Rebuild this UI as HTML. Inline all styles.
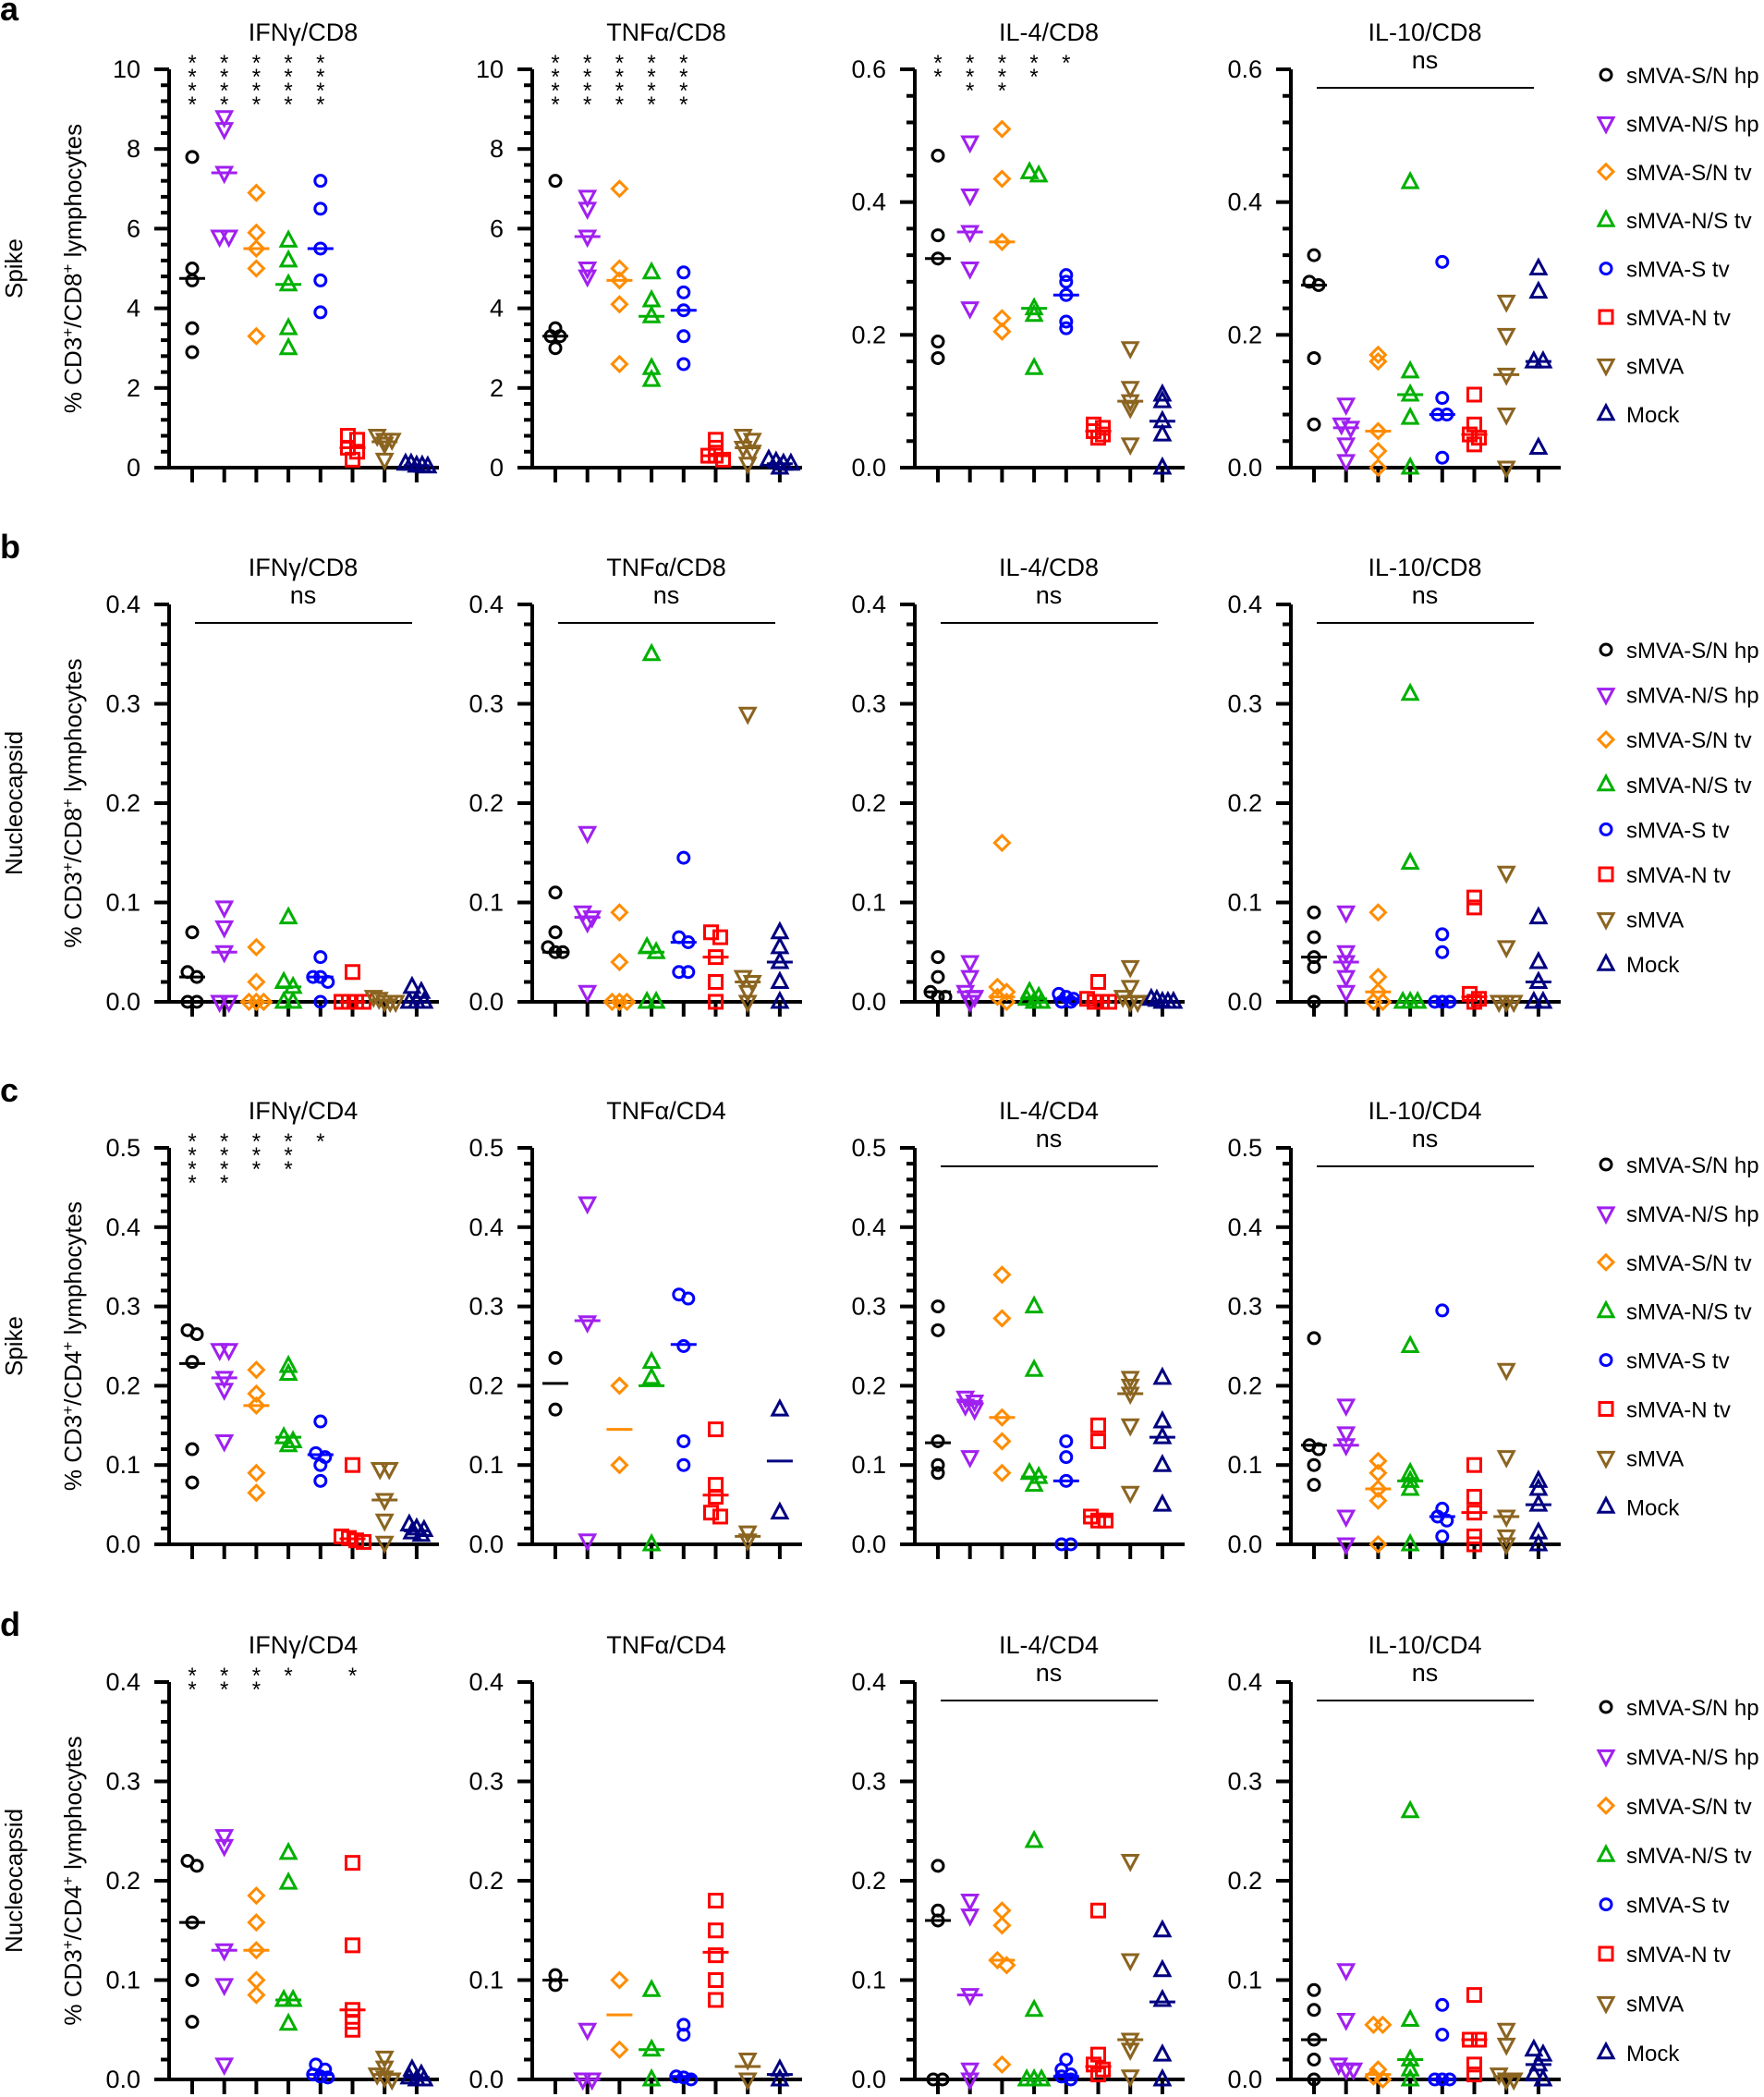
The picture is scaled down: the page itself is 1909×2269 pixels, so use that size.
<!DOCTYPE html>
<html><head><meta charset="utf-8"><style>
html,body{margin:0;padding:0;background:#fff;}
svg{display:block;font-family:"Liberation Sans",Arial,sans-serif;}
</style></head><body>
<svg id="s" width="1909" height="2269" viewBox="0 0 1909 2269" xmlns="http://www.w3.org/2000/svg"></svg>
<script>
const S=document.getElementById('s');
let out='';
const COL=['#000000','#a020f0','#ff8c00','#00b000','#0000ff','#ff0000','#8b6420','#000080'];
const SHP=['c','v','d','t','c','s','v','t'];
const NAMES=['sMVA-S/N hp','sMVA-N/S hp','sMVA-S/N tv','sMVA-N/S tv','sMVA-S tv','sMVA-N tv','sMVA','Mock'];
function mk(sh,x,y,c){
  const st=`fill="none" stroke="${c}" stroke-width="3"`;
  if(sh==='c')return `<circle cx="${x}" cy="${y}" r="6" ${st}/>`;
  if(sh==='s')return `<rect x="${x-7}" y="${y-7}" width="14" height="14" ${st}/>`;
  if(sh==='d')return `<path d="M${x} ${y-8}L${x+8} ${y}L${x} ${y+8}L${x-8} ${y}Z" ${st}/>`;
  if(sh==='t')return `<path d="M${x} ${y-9}L${x+8} ${y+6}L${x-8} ${y+6}Z" ${st}/>`;
  if(sh==='v')return `<path d="M${x} ${y+9}L${x+8} ${y-6}L${x-8} ${y-6}Z" ${st}/>`;
}
const AX=[183,576,990,1397];
const ROWS=[
 {top:75,bot:506,letter:'a',lab:'Spike',cd:'8',leg0:81,legs:52.4},
 {top:654,bot:1084,letter:'b',lab:'Nucleocapsid',cd:'8',leg0:703,legs:48.6},
 {top:1242,bot:1671,letter:'c',lab:'Spike',cd:'4',leg0:1260,legs:52.9},
 {top:1820,bot:2250,letter:'d',lab:'Nucleocapsid',cd:'4',leg0:1847,legs:53.4}
];
const C=[
[
['IFNγ/CD8',10,2,0,[4,4,4,4,4],[[7.8,5.0,4.7,3.5,2.9,4.75],[8.8,8.5,7.4,5.8,5.8,7.4],[6.9,5.9,5.5,5.0,3.3,5.5],[5.7,5.2,4.6,3.5,3.0,4.6],[7.2,6.5,5.5,4.7,3.9,5.5],[0.8,0.7,0.5,0.4,0.2,0.5],[0.8,0.7,0.7,0.6,0.2,0.65],[0.1,0.1,0.05,0.05,0.03,0.05]]],
['TNFα/CD8',10,2,0,[4,4,4,4,4],[[7.2,3.5,3.3,3.3,3.0,3.3],[6.8,6.5,5.8,5.0,4.8,5.8],[7.0,5.0,4.7,4.1,2.6,4.7],[4.9,4.2,3.8,2.5,2.2,3.8],[4.9,4.4,3.95,3.3,2.6,3.95],[0.7,0.5,0.3,0.3,0.2,0.3],[0.8,0.7,0.5,0.4,0.1,0.5],[0.2,0.15,0.1,0.1,0.0,0.1]]],
['IL-4/CD8',0.6,0.2,1,[2,3,3,2,1],[[0.47,0.35,0.315,0.19,0.165,0.315],[0.49,0.41,0.355,0.30,0.24,0.355],[0.51,0.435,0.34,0.225,0.205,0.34],[0.44,0.445,0.24,0.23,0.15,0.24],[0.29,0.28,0.26,0.22,0.21,0.26],[0.065,0.06,0.055,0.05,0.045,0.055],[0.18,0.12,0.1,0.09,0.035,0.1],[0.11,0.10,0.07,0.05,0.0,0.07]]],
['IL-10/CD8',0.6,0.2,1,'ns',[[0.32,0.28,0.275,0.165,0.065,0.275],[0.095,0.065,0.06,0.035,0.01,0.06],[0.17,0.16,0.055,0.025,0.0,0.055],[0.43,0.145,0.11,0.075,0.0,0.11],[0.31,0.105,0.08,0.08,0.015,0.08],[0.11,0.065,0.05,0.045,0.035,0.05],[0.25,0.2,0.14,0.08,0.0,0.14],[0.3,0.265,0.16,0.16,0.03,0.16]]]
],[
['IFNγ/CD8',0.4,0.1,1,'ns',[[0.07,0.03,0.025,0,0,0.025],[0.095,0.075,0.05,0,0,0.05],[0.055,0.02,0,0,0,0],[0.085,0.02,0.015,0,0,0.015],[0.045,0.025,0.025,0.02,0,0.025],[0.03,0,0,0,0,0],[0.005,0.003,0,0,0,0.002],[0.015,0.01,0,0,0,0]]],
['TNFα/CD8',0.4,0.1,1,'ns',[[0.11,0.07,0.055,0.05,0.05,0.05],[0.17,0.09,0.085,0.08,0.01,0.085],[0.09,0.04,0,0,0,0],[0.35,0.055,0.05,0,0,0.05],[0.145,0.065,0.06,0.03,0.03,0.06],[0.07,0.065,0.045,0.02,0,0.045],[0.29,0.025,0.02,0.01,0,0.02],[0.07,0.055,0.04,0.02,0,0.04]]],
['IL-4/CD8',0.4,0.1,1,'ns',[[0.045,0.025,0.01,0.005,0.005,0.01],[0.04,0.025,0.01,0.005,0,0.01],[0.16,0.015,0.01,0.005,0,0.005],[0.01,0.005,0.003,0,0,0.003],[0.008,0.005,0.003,0,0,0.003],[0.02,0.003,0,0,0,0],[0.035,0.015,0.005,0,0,0.005],[0.003,0.002,0,0,0,0]]],
['IL-10/CD8',0.4,0.1,1,'ns',[[0.09,0.065,0.045,0.035,0,0.045],[0.09,0.05,0.04,0.025,0.01,0.04],[0.09,0.025,0.01,0,0,0.01],[0.31,0.14,0,0,0,0],[0.068,0.05,0,0,0,0],[0.105,0.095,0.008,0.003,0,0.005],[0.13,0.055,0,0,0,0],[0.085,0.04,0.02,0,0,0.02]]]
],[
['IFNγ/CD4',0.5,0.1,1,[4,4,3,3,1],[[0.27,0.265,0.23,0.12,0.078,0.228],[0.245,0.245,0.21,0.195,0.13,0.21],[0.22,0.19,0.175,0.09,0.065,0.175],[0.225,0.215,0.135,0.13,0.125,0.135],[0.155,0.115,0.11,0.1,0.08,0.113],[0.1,0.01,0.008,0.005,0.003,0.007],[0.095,0.095,0.056,0.03,0.002,0.056],[0.025,0.02,0.018,0.015,0.012,0.017]]],
['TNFα/CD4',0.5,0.1,1,null,[[0.235,0.17,0.203],[0.43,0.28,0.005,0.282],[0.2,0.1,0.145],[0.23,0.21,0.0,0.2],[0.315,0.31,0.25,0.13,0.1,0.252],[0.145,0.075,0.06,0.04,0.035,0.062],[0.015,0.005,0.01],[0.17,0.04,0.105]]],
['IL-4/CD4',0.5,0.1,1,'ns',[[0.3,0.27,0.13,0.1,0.09,0.128],[0.185,0.18,0.175,0.17,0.11,0.18],[0.34,0.285,0.16,0.13,0.09,0.16],[0.3,0.22,0.09,0.085,0.075,0.085],[0.13,0.11,0.08,0.0,0.0,0.08],[0.15,0.13,0.035,0.03,0.03,0.035],[0.21,0.2,0.19,0.15,0.065,0.19],[0.21,0.155,0.135,0.1,0.05,0.135]]],
['IL-10/CD4',0.5,0.1,1,'ns',[[0.26,0.125,0.12,0.1,0.075,0.125],[0.175,0.14,0.125,0.035,0.0,0.125],[0.105,0.09,0.07,0.055,0.0,0.07],[0.25,0.09,0.08,0.07,0.0,0.08],[0.295,0.045,0.035,0.03,0.01,0.035],[0.1,0.06,0.04,0.01,0.0,0.04],[0.22,0.11,0.035,0.01,0.0,0.035],[0.08,0.07,0.05,0.015,0.0,0.05]]]
],[
['IFNγ/CD4',0.4,0.1,1,[2,2,2,1,0,1],[[0.22,0.215,0.158,0.1,0.058,0.158],[0.245,0.235,0.13,0.095,0.015,0.13],[0.185,0.158,0.13,0.1,0.085,0.13],[0.228,0.198,0.08,0.08,0.056,0.08],[0.015,0.01,0.005,0.003,0.002,0.005],[0.218,0.135,0.07,0.058,0.05,0.07],[0.022,0.012,0.005,0.002,0.0,0.005],[0.01,0.005,0.002,0,0,0.002]]],
['TNFα/CD4',0.4,0.1,1,null,[[0.105,0.095,0.1],[0.05,0.0,0.0,0.0],[0.1,0.03,0.065],[0.09,0.03,0.0,0.03],[0.055,0.045,0.003,0.002,0,0.003],[0.18,0.15,0.125,0.1,0.08,0.128],[0.02,0.0,0.013],[0.01,0.0,0.005]]],
['IL-4/CD4',0.4,0.1,1,'ns',[[0.215,0.17,0.16,0.0,0.0,0.16],[0.18,0.165,0.085,0.01,0.0,0.085],[0.17,0.155,0.12,0.115,0.015,0.12],[0.24,0.07,0,0,0,0],[0.02,0.01,0.005,0.003,0,0.003],[0.17,0.025,0.015,0.01,0.005,0.013],[0.22,0.12,0.04,0.03,0.003,0.04],[0.15,0.11,0.08,0.025,0.0,0.078]]],
['IL-10/CD4',0.4,0.1,1,'ns',[[0.09,0.07,0.04,0.02,0.0,0.04],[0.11,0.06,0.015,0.01,0.01,0.015],[0.055,0.055,0.01,0.003,0,0.005],[0.27,0.06,0.02,0.01,0,0.02],[0.075,0.045,0,0,0,0],[0.085,0.04,0.04,0.015,0.005,0.04],[0.05,0.035,0.005,0,0,0.003],[0.03,0.025,0.015,0.005,0,0.015]]]
]];
function T(x,y,s,fs,anchor,extra){return `<text x="${x}" y="${y}" font-size="${fs}" text-anchor="${anchor||'start'}" ${extra||''}>${s}</text>`;}
ROWS.forEach((R,ri)=>{
  const H=R.bot-R.top;
  out+=T(0,R.top-50+( ri==0?-3:0 ),R.letter,36,'start','font-weight="bold"');
  const my=(R.top+R.bot)/2;
  out+=`<text transform="translate(24 ${my}) rotate(-90)" font-size="26" text-anchor="middle">${R.lab}</text>`;
  out+=`<text transform="translate(88 ${my}) rotate(-90)" font-size="26" text-anchor="middle">% CD3<tspan dy="-9" font-size="17">+</tspan><tspan dy="9">/CD${R.cd}</tspan><tspan dy="-9" font-size="17">+</tspan><tspan dy="9"> lymphocytes</tspan></text>`;
  C[ri].forEach((ch,ci)=>{
    const [title,max,maj,dec,sig,data]=ch;
    const ax=AX[ci];
    const Y=v=>R.bot-v/max*H;
    const gx=g=>ax+25+g*34.7;
    out+=T(ax+145,R.top-31,title,27,'middle');
    out+=`<line x1="${ax}" y1="${R.top}" x2="${ax}" y2="${R.bot+2}" stroke="#000" stroke-width="4"/>`;
    out+=`<line x1="${ax-16}" y1="${R.bot}" x2="${ax+292}" y2="${R.bot}" stroke="#000" stroke-width="4"/>`;
    const nmaj=Math.round(max/maj);
    for(let i=0;i<=nmaj*5;i++){
      const y=R.bot-i/(nmaj*5)*H;
      const isMaj=i%5===0;
      out+=`<line x1="${ax-(isMaj?16:9)}" y1="${y}" x2="${ax}" y2="${y}" stroke="#000" stroke-width="4"/>`;
      if(isMaj){const v=(i/5*maj).toFixed(dec);out+=T(ax-31,y+9,v,27,'end');}
    }
    for(let g=0;g<8;g++){out+=`<line x1="${gx(g)}" y1="${R.bot}" x2="${gx(g)}" y2="${R.bot+16}" stroke="#000" stroke-width="4"/>`;}
    if(sig==='ns'){
      out+=T(ax+145,R.top-1,'ns',27,'middle');
      out+=`<line x1="${ax+28}" y1="${R.top+20}" x2="${ax+263}" y2="${R.top+20}" stroke="#000" stroke-width="2"/>`;
    } else if(sig){
      sig.forEach((n,g)=>{for(let k=0;k<n;k++)out+=T(gx(g),R.top+1+k*15,'*',24,'middle');});
    }
    data.forEach((arr,g)=>{
      const pts=arr.slice(0,-1), med=arr[arr.length-1];
      const c=COL[g], x0=gx(g);
      const ys=pts.map(Y).sort((a,b)=>a-b);
      let cl=[];let cur=[ys[0]];
      for(let i=1;i<ys.length;i++){if(ys[i]-cur[0]<7)cur.push(ys[i]);else{cl.push(cur);cur=[ys[i]];}}
      cl.push(cur);
      cl.forEach(cc=>{const n=cc.length;const sp=n>2?Math.min(8,24/(n-1)):10;cc.forEach((y,i)=>{const x=x0+(i-(n-1)/2)*sp;out+=mk(SHP[g],x,y,c);});});
      out+=`<line x1="${x0-14}" y1="${Y(med)}" x2="${x0+14}" y2="${Y(med)}" stroke="${c}" stroke-width="3"/>`;
    });
  });
  for(let g=0;g<8;g++){
    const y=R.leg0+g*R.legs;
    out+=mk(SHP[g],1738,y,COL[g]);
    out+=T(1760,y+9,NAMES[g],24,'start');
  }
});
S.innerHTML=out;
</script>
</body></html>
